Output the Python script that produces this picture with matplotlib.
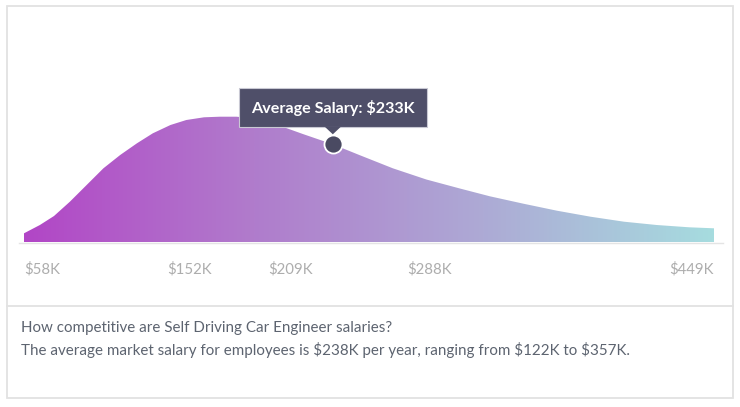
import numpy as np
import matplotlib
matplotlib.use("Agg")
import matplotlib.pyplot as plt
from matplotlib.patches import Rectangle, Polygon, PathPatch
from matplotlib.colors import LinearSegmentedColormap

# ---- data ----
salary_k = [58, 67, 75, 84, 93.5, 103, 112.5, 122, 131, 141, 150, 160, 169, 178.5,
            188, 197, 207, 216, 233, 248, 267, 286, 305, 322, 341, 360, 379, 398,
            416.5, 435, 449]
density = [9.2, 17.5, 26.5, 40.8, 57.5, 74.2, 87.5, 99.2, 109.2, 117.5, 122.5, 125.2,
           125.8, 125.8, 124, 120, 114.2, 108.5, 98.2, 87.5, 74.2, 63, 54, 46.2,
           38.8, 31.8, 25.8, 20.8, 17.5, 15.2, 14.2]
tick_values = [58, 152, 209, 288, 449]
tick_labels = ["$58K", "$152K", "$209K", "$288K", "$449K"]
average_k = 233
average_label = "Average Salary: $233K"
caption_lines = [
    "How competitive are Self Driving Car Engineer salaries?",
    "The average market salary for employees is $238K per year, ranging from $122K to $357K.",
]

W, H = 740, 407
DPI = 100
plt.rcParams['font.family'] = ['Lato', 'DejaVu Sans']

fig = plt.figure(figsize=(W / DPI, H / DPI), dpi=DPI)
fig.patch.set_facecolor("white")

def px(x, y):
    """pixel (from top-left) -> figure fraction"""
    return x / W, 1 - y / H

# chart axes: x 24..714 px, baseline at y=242.5 px
ax_l, ax_r, base, top = 24, 714, 242.5, 100
ax = fig.add_axes([ax_l / W, 1 - base / H, (ax_r - ax_l) / W, (base - top) / H])
ax.set_facecolor("none")
for s in ax.spines.values():
    s.set_visible(False)
ax.set_yticks([])

# gradient fill clipped to the area under the curve
xs = np.array(salary_k, dtype=float)
ys = np.array(density, dtype=float)
poly = ax.fill_between(xs, 0, ys, color="none", lw=0)
cmap = LinearSegmentedColormap.from_list(
    "sal", ["#b246c6", "#b07ccc", "#adaad5", "#a6dcdf"])
grad = np.linspace(0, 1, 512).reshape(1, -1)
im = ax.imshow(grad, cmap=cmap, aspect="auto", extent=[58, 449, 0, 130],
               origin="lower", zorder=1, interpolation="bilinear")
clip = PathPatch(poly.get_paths()[0], transform=ax.transData,
                 facecolor="none", edgecolor="none")
ax.add_patch(clip)
im.set_clip_path(clip)
ax.set_xlim(58, 449)
ax.set_ylim(0, base - top)

# ticks
ax.set_xticks(tick_values)
ax.set_xticklabels(tick_labels)
ax.tick_params(axis="x", length=0, pad=14, labelsize=10.8, labelcolor="#adadad")
lbls = ax.get_xticklabels()
lbls[0].set_horizontalalignment("left")
lbls[-1].set_horizontalalignment("right")

# baseline line
fig.add_artist(plt.Line2D([19 / W, 723 / W], [1 - 242.8 / H] * 2, color="#e4e4e4", lw=1.0))

# outer border & divider
fig.add_artist(Rectangle(px(7, 398), 726 / W, 392 / H, transform=fig.transFigure,
                         facecolor="none", edgecolor="#e2e2e2", lw=1.3))
fig.add_artist(plt.Line2D([7 / W, 733 / W], [1 - 306 / H] * 2, color="#e2e2e2", lw=1.3))

# average marker & tooltip (pixel offsets from the marker)
avg_y = float(np.interp(average_k, xs, ys))
fig.canvas.draw()
dx, dy = ax.transData.transform((average_k, avg_y))
tip_col = "#4f4f69"
box_w, box_h, gap = 188, 39, 17
fig.add_artist(Rectangle((dx - box_w / 2, dy + gap), box_w, box_h, transform=None,
                         facecolor=tip_col, edgecolor="#c9c9d4", lw=0.8, zorder=5))
fig.add_artist(Polygon([(dx - 8, dy + gap + 0.5), (dx + 8, dy + gap + 0.5), (dx, dy + gap - 7)],
                       closed=True, transform=None, facecolor=tip_col, edgecolor="none", zorder=6))
fig.text(dx / W, (dy + gap + box_h / 2) / H, average_label, color="white",
         fontsize=11.6, fontweight="bold", ha="center", va="center", zorder=7)
ax.plot([average_k], [avg_y], marker="o", markersize=13, markerfacecolor="#4a4a62",
        markeredgecolor="white", markeredgewidth=1.3, zorder=8, clip_on=False)

# caption
fig.text(21 / W, 1 - 328 / H, caption_lines[0], fontsize=10.9, color="#5d6470",
         ha="left", va="center")
fig.text(21 / W, 1 - 350 / H, caption_lines[1], fontsize=10.9, color="#5d6470",
         ha="left", va="center")

fig.savefig("out.png", dpi=DPI)
